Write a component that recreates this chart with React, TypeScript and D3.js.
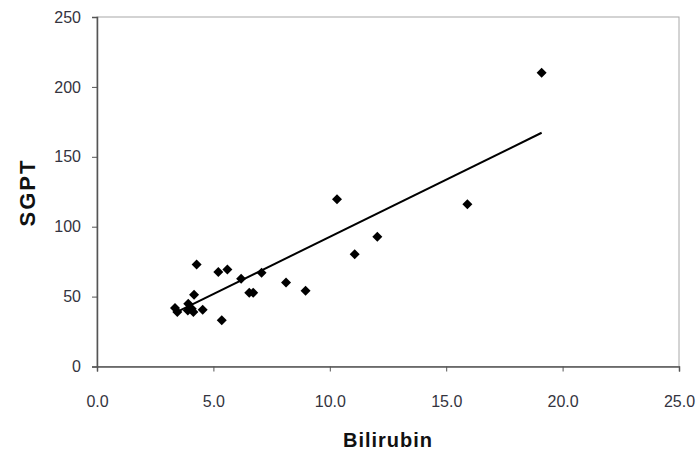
import React, { useEffect, useRef } from 'react';
import * as d3 from 'd3';

// --- Data ---
const bilirubin = [19.1, 10.31, 15.91, 12.04, 11.07, 8.12, 8.96, 7.07, 6.19, 6.54, 6.71, 5.6, 5.21, 4.28, 5.36, 4.17, 3.35, 3.45, 3.92, 3.9, 4.07, 4.14, 4.54];
const sgpt = [210.2, 119.6, 116, 92.8, 80.3, 60, 54.2, 67.1, 62.8, 52.8, 52.8, 69.3, 67.6, 73, 33, 51.3, 41.8, 38.9, 44.9, 40, 41.3, 38.9, 40.6];
const trendSlope = 8.18;
const trendIntercept = 10.96;
const xTicks = [0, 5, 10, 15, 20, 25];
const yTicks = [0, 50, 100, 150, 200, 250];

const W = 699;
const H = 454;
const margin = { top: 17, right: 20, bottom: 87.5, left: 97 };

const ScatterChart = () => {
  const ref = useRef<SVGSVGElement | null>(null);

  useEffect(() => {
    if (!ref.current) return;
    const svg = d3.select(ref.current);
    svg.selectAll('*').remove();

    const x = d3.scaleLinear().domain([0, 25]).range([margin.left, W - margin.right]);
    const y = d3.scaleLinear().domain([0, 250]).range([H - margin.bottom, margin.top]);
    const font = '"Liberation Sans", Arial, sans-serif';
    const tickColor = '#343440';

    // plot area border (light gray, top and right)
    svg.append('rect')
      .attr('x', x(0)).attr('y', y(250))
      .attr('width', x(25) - x(0)).attr('height', y(0) - y(250))
      .attr('fill', 'none').attr('stroke', '#a8a8a8').attr('stroke-width', 1);

    const xAxis = svg.append('g')
      .attr('transform', `translate(0,${y(0)})`)
      .call(d3.axisBottom(x).tickValues(xTicks).tickSize(5).tickPadding(24).tickFormat(d3.format('.1f')));
    xAxis.select('.domain').attr('stroke', '#555').attr('stroke-width', 1.5);
    xAxis.selectAll('.tick line').attr('stroke', '#555');
    xAxis.selectAll('text').attr('fill', tickColor).style('font-family', font).style('font-size', '16px');

    const yAxis = svg.append('g')
      .attr('transform', `translate(${x(0)},0)`)
      .call(d3.axisLeft(y).tickValues(yTicks).tickSize(5).tickPadding(11));
    yAxis.select('.domain').attr('stroke', '#555').attr('stroke-width', 1.5);
    yAxis.selectAll('.tick line').attr('stroke', '#555');
    yAxis.selectAll('text').attr('fill', tickColor).style('font-family', font).style('font-size', '16px');

    // trend line
    const xMin = d3.min(bilirubin) as number;
    const xMax = d3.max(bilirubin) as number;
    svg.append('line')
      .attr('x1', x(xMin)).attr('y1', y(trendSlope * xMin + trendIntercept))
      .attr('x2', x(xMax)).attr('y2', y(trendSlope * xMax + trendIntercept))
      .attr('stroke', '#000').attr('stroke-width', 2);

    // points
    const diamond = d3.symbol(d3.symbolSquare, 50);
    svg.append('g').selectAll('path').data(bilirubin).enter().append('path')
      .attr('d', diamond)
      .attr('transform', (d, i) => `translate(${x(d)},${y(sgpt[i])}) rotate(45)`)
      .attr('fill', '#000');

    // axis titles
    svg.append('text')
      .attr('x', 388).attr('y', 447)
      .attr('text-anchor', 'middle')
      .style('font-family', font).style('font-size', '20px').style('font-weight', 'bold')
      .style('letter-spacing', '1px')
      .attr('fill', '#111').text('Bilirubin');
    svg.append('text')
      .attr('transform', `translate(35,192.5) rotate(-90)`)
      .attr('text-anchor', 'middle')
      .style('font-family', font).style('font-size', '22px').style('font-weight', 'bold')
      .style('letter-spacing', '2px')
      .attr('fill', '#111').text('SGPT');
  }, []);

  return <svg ref={ref} width={W} height={H} style={{ display: 'block', background: '#fff' }} />;
};

export default function App() {
  return (
    <div style={{ position: 'fixed', left: 0, top: 0 }}>
      <ScatterChart />
    </div>
  );
}
